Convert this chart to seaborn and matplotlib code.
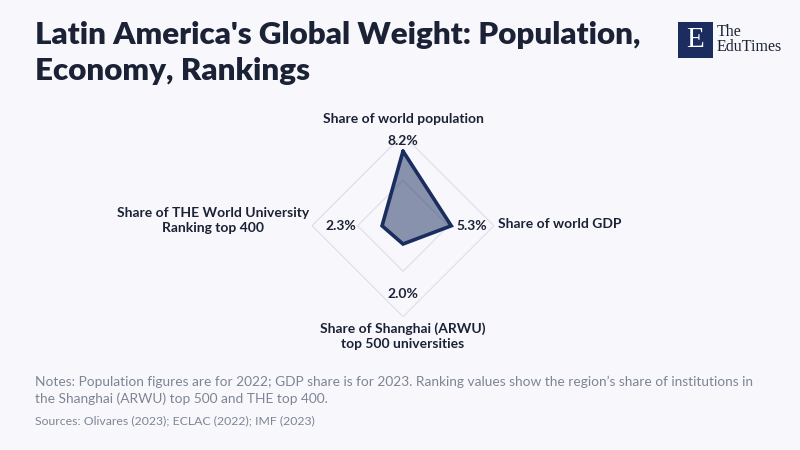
import numpy as np
import matplotlib
matplotlib.use("Agg")
import matplotlib.pyplot as plt
import seaborn as sns
from matplotlib.patches import Rectangle

# --- DATA ---
AXIS_LABELS = ["Share of world population", "Share of world GDP",
               "Share of Shanghai (ARWU)\ntop 500 universities",
               "Share of THE World University\nRanking top 400"]
VALUES = [8.2, 5.3, 2.0, 2.3]
VALUE_LABELS = ["8.2%", "5.3%", "2.0%", "2.3%"]
GRID_LEVELS = [5, 10]

TITLE = "Latin America's Global Weight: Population,\nEconomy, Rankings"
NOTES = ("Notes: Population figures are for 2022; GDP share is for 2023. Ranking values show the region\u2019s share of institutions in\n"
         "the Shanghai (ARWU) top 500 and THE top 400.")
SOURCES = "Sources: Olivares (2023); ECLAC (2022); IMF (2023)"

# --- STYLE ---
BG = "#f8f8fc"
NAVY = "#1b2d5e"
TEXT = "#1c2236"
GRID = "#dfe0ea"
NOTE = "#7d8595"

sns.set_theme(style="white")
plt.rcParams['font.family'] = ['Lato', 'DejaVu Sans']

fig = plt.figure(figsize=(8, 4.5), dpi=100, facecolor=BG)

# title
fig.text(0.044, 1 - 21 / 450, TITLE, fontsize=22.6, fontweight='heavy', color=TEXT,
         va='top', ha='left', linespacing=1.33)

# logo
fig.patches.append(Rectangle((678 / 800, 1 - 58 / 450), 35 / 800, 36 / 450,
                             transform=fig.transFigure, facecolor=NAVY, edgecolor='none'))
fig.text(695.5 / 800, 1 - 40 / 450, "E", family='Liberation Serif', fontsize=21,
         color='white', ha='center', va='center')
fig.text(717 / 800, 1 - 24 / 450, "The\nEduTimes", family='Liberation Serif', fontsize=11.5,
         color=TEXT, ha='left', va='top', linespacing=0.9)

# radar
ax = fig.add_axes([0.390, 0.296, 0.2275, 0.4044], projection='polar')
ax.set_facecolor('none')
ax.set_theta_offset(np.pi / 2)
ax.set_theta_direction(-1)
ax.set_ylim(0, 10)
ax.grid(False)
ax.spines['polar'].set_visible(False)
ax.set_xticks([])
ax.set_yticks([])

n = len(VALUES)
angles = np.linspace(0, 2 * np.pi, n, endpoint=False)
ang_closed = np.append(angles, angles[0])

for lvl in GRID_LEVELS:
    ax.plot(ang_closed, [lvl] * (n + 1), color=GRID, lw=0.9, zorder=1)

vals_closed = np.append(VALUES, VALUES[0])
ax.fill(ang_closed, vals_closed, color=NAVY, alpha=0.5, zorder=2, lw=0)
ax.plot(ang_closed, vals_closed, color=NAVY, lw=2.6, zorder=3, solid_joinstyle='miter')

# axis labels: top, right, bottom, left
lab_off = [(0, 7), (3, 1), (0, -4), (-2, 4)]
lab_ha = ['center', 'left', 'center', 'right']
lab_va = ['bottom', 'center', 'top', 'center']
for a, lab, off, ha, va in zip(angles, AXIS_LABELS, lab_off, lab_ha, lab_va):
    ax.annotate(lab, xy=(a, 10), xytext=off, textcoords='offset points',
                ha=ha, va=va, fontsize=10, fontweight='bold', color=TEXT,
                multialignment='center', linespacing=1.3, annotation_clip=False)

# value labels
val_off = [(0, 3), (4, 0), (0, -12), (-1, 0)]
for a, v, lab, off, ha, va in zip(angles, VALUES, VALUE_LABELS, val_off, lab_ha, lab_va):
    ax.annotate(lab, xy=(a, max(v, 5)), xytext=off, textcoords='offset points',
                ha=ha, va=va, fontsize=10, fontweight='bold', color=TEXT,
                annotation_clip=False)

# notes
fig.text(0.044, 1 - 376 / 450, NOTES, fontsize=9.9, color=NOTE, ha='left', va='top',
         linespacing=1.35)
fig.text(0.044, 1 - 415 / 450, SOURCES, fontsize=8.8, color=NOTE, ha='left', va='top')

fig.savefig("out.png", dpi=100, facecolor=BG)
